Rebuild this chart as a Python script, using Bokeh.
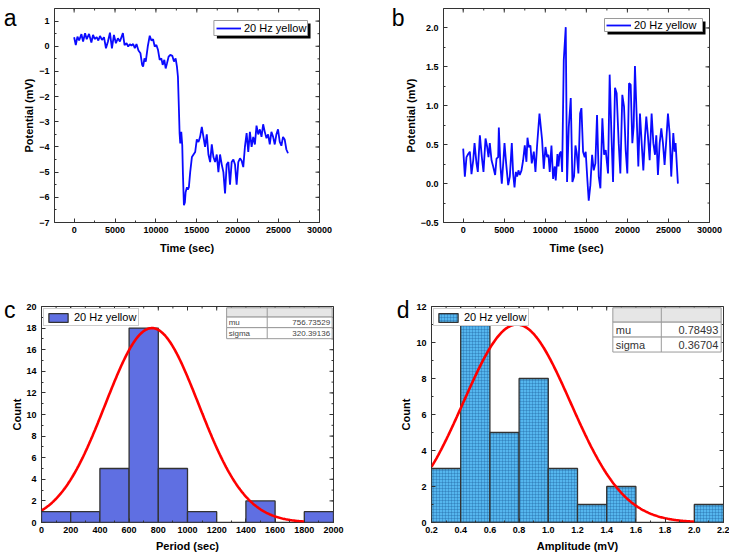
import numpy as np
from bokeh.plotting import figure
from bokeh.layouts import column, row
from bokeh.models import (Range1d, FixedTicker, Legend, LegendItem, LinearAxis,
                          CustomJSTickFormatter)
from bokeh.embed import file_html
from bokeh.resources import INLINE
from bokeh.core.properties import value

FONT = "Liberation Sans"
series_label = "20 Hz yellow"

# ---------------- data: panel a (potential vs time) ----------------
time_a = [0, 203, 406, 608, 892, 1095, 1338, 1541, 1825, 2109, 2311, 2514, 2757, 2960,
          3163, 3406, 3650, 3893, 4136, 4379, 4623, 4866, 5109, 5353, 5596, 5961, 6164,
          6407, 6610, 6814, 7015, 7218, 7421, 7623, 7867, 8110, 8313, 8434, 8597, 8759,
          9002, 9245, 9448, 9651, 9854, 10056, 10259, 10462, 10665, 10827, 11030, 11192,
          11354, 11557, 11760, 12003, 12206, 12409, 12571, 12692, 12814, 12895, 12976,
          13098, 13220, 13301, 13422, 13540, 13630, 13790, 13900, 14030, 14190, 14400,
          14600, 14800, 15000, 15200, 15400, 15610, 15810, 16010, 16220, 16420, 16630,
          16830, 17030, 17240, 17440, 17640, 17840, 18050, 18250, 18450, 18650, 18860,
          19060, 19260, 19470, 19670, 19870, 20070, 20280, 20480, 20680, 20880, 21090,
          21290, 21490, 21700, 21900, 22100, 22300, 22510, 22710, 22910, 23110, 23310,
          23520, 23720, 23920, 24120, 24330, 24530, 24730, 24930, 25140, 25340, 25540,
          25740, 25950, 26150]
pot_a = [0.36, 0.05, 0.38, 0.23, 0.48, 0.19, 0.52, 0.28, 0.49, 0.15, 0.45, 0.29, 0.36, 0.23,
         0.41, 0.25, 0.36, -0.08, 0.19, 0.54, -0.08, 0.45, 0.12, 0.32, 0.19, 0.52, 0.05,
         0.12, -0.01, 0.08, 0.03, 0.09, -0.08, 0.09, -0.17, -0.28, -0.74, -0.81, -0.48, -0.61,
         -0.01, 0.42, 0.23, 0.28, -0.01, 0.05, -0.15, -0.54, -0.48, -0.74, -0.54, -0.88,
         -0.68, -0.41, -0.34, -0.38, -0.61, -0.48, -0.81, -1.21, -2.53, -3.46, -3.86,
         -3.40, -3.93, -5.05, -6.31, -6.20, -5.80, -5.60, -5.70, -5.60, -5.00, -4.40,
         -4.30, -4.20, -3.70, -3.80, -3.60, -3.20, -3.60, -4.00, -3.50, -4.30, -4.60,
         -3.90, -4.40, -4.60, -4.30, -5.00, -4.30, -4.70, -5.00, -5.85, -4.70, -4.60,
         -5.50, -4.60, -4.50, -4.70, -5.50, -4.60, -4.45, -4.55, -4.80, -4.00, -3.45,
         -4.20, -3.40, -4.00, -3.60, -3.90, -3.15, -3.50, -3.30, -3.60, -3.10, -3.40,
         -3.65, -3.50, -3.90, -3.40, -3.60, -3.90, -3.50, -3.30, -3.80, -3.95, -3.60,
         -3.70, -4.10, -4.25]

# ---------------- data: panel b ----------------
time_b = [0, 200, 400, 610, 810, 1010, 1220, 1380, 1620, 1780, 2030, 2270, 2470, 2720,
          2920, 3080, 3240, 3450, 3650, 3890, 4060, 4260, 4340, 4540, 4700, 4910, 5030,
          5230, 5480, 5680, 5920, 6080, 6250, 6410, 6570, 6730, 6890, 7100, 7300, 7500,
          7700, 7830, 7990, 8190, 8350, 8600, 8800, 9000, 9290, 9450, 9610, 9810, 10020,
          10220, 10380, 10540, 10750, 10950, 11150, 11270, 11480, 11600, 11760, 11920,
          12050, 12250, 12490, 12650, 12860, 13100, 13300, 13500, 13670, 13830, 14030,
          14240, 14400, 14600, 14800, 14920, 15130, 15290, 15490, 15700, 15900, 16100,
          16300, 16510, 16710, 16950, 17160, 17360, 17640, 17840, 18050, 18250, 18490,
          18690, 18940, 19140, 19380, 19590, 19790, 19990, 20200, 20400, 20600, 20760,
          20920, 21130, 21330, 21530, 21740, 21940, 22140, 22300, 22510, 22710, 22950,
          23160, 23360, 23520, 23720, 23930, 24130, 24330, 24530, 24740, 24940, 25140,
          25340, 25590, 25750, 25870, 26150]
pot_b = [0.45, 0.09, 0.34, 0.38, 0.41, 0.12, 0.30, 0.52, 0.26, 0.15, 0.62, 0.34, 0.15, 0.58,
         0.47, 0.34, 0.52, 0.30, 0.22, 0.11, 0.32, 0.34, 0.72, 0.22, 0.00, 0.32, 0.52,
         0.26, -0.02, 0.09, 0.52, 0.13, -0.05, 0.15, 0.09, 0.17, 0.11, 0.17, 0.30, 0.49,
         0.28, 0.59, 0.47, 0.49, 0.26, 0.41, 0.15, 0.49, 0.90, 0.73, 0.56, 0.19, 0.47,
         0.34, 0.37, 0.15, 0.49, 0.06, 0.22, 0.04, 0.38, 0.22, 0.39, 0.41,
         0.15, 1.59, 2.01, 0.02, 0.73, 1.10, 0.02, 0.09, 0.49, 0.39, 0.13,
         0.90, 0.97, 0.41, 0.34, 0.41, 0.04, -0.22, -0.02, 0.37, 0.17, 0.26,
         0.88, 0.09, -0.06, 0.84, 0.37, 0.43, 0.13, 1.40, 0.65, 0.02, 1.23,
         1.16, 0.52, 0.13, 1.14, 0.99, 0.43, 0.13, 1.29, 1.27, 0.52, 0.73,
         1.51, 0.86, 0.22, 0.90, 0.52, 0.17, 0.60, 0.86, 0.60, 0.30, 0.90,
         0.52, 0.37, 0.62, 0.11, 0.52, 0.71, 0.52, 0.24, 0.56, 0.90, 0.65,
         0.09, 0.65, 0.41, 0.52, 0.00]

# ---------------- data: panel c (period histogram) ----------------
period_edges = [0, 200, 400, 600, 800, 1000, 1200, 1400, 1600, 1800, 2000]
period_counts = [1, 1, 5, 18, 5, 1, 0, 2, 0, 1]
period_mu = 756.73529
period_sigma = 320.39136
period_fit_end = 1800

# ---------------- data: panel d (amplitude histogram) ----------------
amp_edges = [0.2, 0.4, 0.6, 0.8, 1.0, 1.2, 1.4, 1.6, 1.8, 2.0, 2.2]
amp_counts = [3, 11, 5, 8, 3, 1, 2, 0, 0, 1]
amp_mu = 0.78493
amp_sigma = 0.36704
amp_fit_end = 2.0

TICK_COLOR = "#333333"


# ---------------- helpers ----------------
def minus_fmt(decimals):
    return CustomJSTickFormatter(code=(
        "const s = Math.abs(tick).toFixed(%d); return tick < -1e-9 ? '\\u2212' + s : s;" % decimals))


def base_fig(width, height, xr, yr, borders):
    l, r, t, b = borders
    p = figure(width=width, height=height, x_range=Range1d(*xr), y_range=Range1d(*yr),
               output_backend="svg", toolbar_location=None,
               min_border_left=l, min_border_right=r, min_border_top=t, min_border_bottom=b)
    p.xgrid.visible = False
    p.ygrid.visible = False
    p.outline_line_color = "#333333"
    p.outline_line_width = 1
    return p


def style_axis(ax, major, minor, fmt, label, label_standoff, tick_standoff):
    ax.ticker = FixedTicker(ticks=major, minor_ticks=minor)
    ax.formatter = fmt
    ax.axis_line_color = None
    ax.major_tick_in = 4
    ax.major_tick_out = 0
    ax.minor_tick_in = 2
    ax.minor_tick_out = 0
    ax.major_tick_line_color = TICK_COLOR
    ax.minor_tick_line_color = TICK_COLOR
    ax.major_label_text_font = FONT
    ax.major_label_text_font_style = "bold"
    ax.major_label_text_color = "black"
    ax.major_label_text_font_size = "9px"
    ax.major_label_standoff = tick_standoff
    ax.axis_label = label
    ax.axis_label_text_font = FONT
    ax.axis_label_text_font_style = "bold"
    ax.axis_label_text_font_size = "11px"
    ax.axis_label_text_color = "black"
    ax.axis_label_standoff = label_standoff


def setup_axes(p, xr, yr, xmaj, xmin, xfmt, ymaj, ymin, yfmt, xlabel, ylabel, xls=6, yls=1):
    style_axis(p.xaxis[0], xmaj, xmin, xfmt, xlabel, xls, 4)
    style_axis(p.yaxis[0], ymaj, ymin, yfmt, ylabel, yls, 5)
    # inward ticks on the top and right edges of the frame box
    for ticks, ln in ((xmaj, 4), (xmin, 2)):
        p.ray(x=ticks, y=[yr[1]] * len(ticks), length=ln, length_units="screen",
              angle=-np.pi / 2, line_color=TICK_COLOR, line_width=1)
    for ticks, ln in ((ymaj, 4), (ymin, 2)):
        p.ray(x=[xr[1]] * len(ticks), y=ticks, length=ln, length_units="screen",
              angle=np.pi, line_color=TICK_COLOR, line_width=1)


def px2data(xr, yr, fw, fh, px, py):
    x = xr[0] + px / fw * (xr[1] - xr[0])
    y = yr[1] - py / fh * (yr[1] - yr[0])
    return x, y


def line_legend(p, r, xr, yr, fw, fh, left, top, w, h, sh):
    # black drop shadow + white legend box, then the legend entry on top
    sx0, sy0 = px2data(xr, yr, fw, fh, left + sh, top + sh)
    sx1, sy1 = px2data(xr, yr, fw, fh, left + w + sh, top + h + sh)
    p.quad(left=[sx0], right=[sx1], top=[sy0], bottom=[sy1], fill_color="black",
           line_color=None)
    bx0, by0 = px2data(xr, yr, fw, fh, left, top)
    bx1, by1 = px2data(xr, yr, fw, fh, left + w, top + h)
    p.quad(left=[bx0], right=[bx1], top=[by0], bottom=[by1], fill_color="white",
           line_color="#9a9a9a", line_width=1)
    leg = Legend(items=[LegendItem(label=series_label, renderers=[r])],
                 location=(left + 2, fh - (top + h / 2) - 7), padding=0, spacing=0, margin=0,
                 glyph_width=25, glyph_height=14, label_height=14, label_standoff=3,
                 label_text_font=FONT, label_text_font_size="11px", label_text_color="black",
                 label_text_line_height=1.0, border_line_color=None,
                 background_fill_alpha=0)
    p.add_layout(leg)


def hist_legend(p, r):
    leg = Legend(items=[LegendItem(label=series_label, renderers=[r])],
                 location="top_left", padding=2, spacing=0, margin=2,
                 glyph_width=24, glyph_height=11, label_height=11, label_standoff=4,
                 label_text_font=FONT, label_text_font_size="11px", label_text_color="black",
                 label_text_line_height=1.0,
                 border_line_color="#9a9a9a", border_line_width=1,
                 background_fill_color="white", background_fill_alpha=1)
    p.add_layout(leg)


def add_table(p, xl, xd, xr_, rows, names, vals, fsize, tcolor, pad):
    lc = "#9a9a9a"
    p.quad(left=[xl], right=[xr_], top=[rows[0]], bottom=[rows[1]],
           fill_color="#e6e6e6", line_color=lc, line_width=1)
    p.quad(left=[xl, xl], right=[xr_, xr_], top=rows[1:3], bottom=rows[2:4],
           fill_color="white", line_color=lc, line_width=1)
    p.segment(x0=[xd], x1=[xd], y0=[rows[0]], y1=[rows[3]], line_color=lc, line_width=1)
    mids = [(rows[1] + rows[2]) / 2, (rows[2] + rows[3]) / 2]
    p.text(x=[xl + pad] * 2, y=mids, text=names, text_align="left", text_baseline="middle",
           text_font=value(FONT), text_font_size=fsize, text_color=tcolor)
    p.text(x=[xr_ - pad] * 2, y=mids, text=["%.5f" % v for v in vals], text_align="right",
           text_baseline="middle", text_font=value(FONT), text_font_size=fsize, text_color=tcolor)


def panel_letter(p, letter, y_at, standoff):
    # the panel letter is drawn as the single tick label of an extra, bare left axis
    ax = LinearAxis(ticker=FixedTicker(ticks=[y_at], minor_ticks=[]),
                    formatter=CustomJSTickFormatter(code="return '%s';" % letter),
                    axis_line_color=None, major_tick_line_color=None,
                    minor_tick_line_color=None, major_tick_in=0, major_tick_out=0,
                    minor_tick_in=0, minor_tick_out=0, major_label_standoff=standoff,
                    major_label_text_font=FONT, major_label_text_font_size="23px",
                    major_label_text_font_style="normal", major_label_text_color="black")
    p.add_layout(ax, "left")


# ---------------- panel a ----------------
xr_a, yr_a = (-2400, 30000), (-7, 1.5)
FW_A, FH_A = 266, 214
pa = base_fig(365, 270, xr_a, yr_a, (53, 46, 8, 48))
setup_axes(pa, xr_a, yr_a, list(range(0, 30001, 5000)), list(range(-2500, 30001, 2500)),
           minus_fmt(0), list(range(-7, 2)), [v / 2 for v in range(-14, 4)], minus_fmt(0),
           "Time (sec)", "Potential (mV)")
ra = pa.line(time_a, pot_a, line_color="#0a0aff", line_width=1.8)
line_legend(pa, ra, xr_a, yr_a, FW_A, FH_A, 160, 12, 94, 15, 3)
panel_letter(pa, "a", px2data(xr_a, yr_a, FW_A, FH_A, 0, 0.5)[1], 4)

# ---------------- panel b ----------------
xr_b, yr_b = (-2400, 30000), (-0.5, 2.25)
FW_B, FH_B = 266, 214
pb = base_fig(364, 270, xr_b, yr_b, (78, 20, 8, 48))
setup_axes(pb, xr_b, yr_b, list(range(0, 30001, 5000)), list(range(-2500, 30001, 2500)),
           minus_fmt(0), [-0.5, 0.0, 0.5, 1.0, 1.5, 2.0], [v / 4 for v in range(-2, 10)],
           minus_fmt(1), "Time (sec)", "Potential (mV)")
rb = pb.line(time_b, pot_b, line_color="#0a0aff", line_width=1.8)
line_legend(pb, rb, xr_b, yr_b, FW_B, FH_B, 161, 10, 98, 13, 3)
panel_letter(pb, "b", px2data(xr_b, yr_b, FW_B, FH_B, 0, 0.5)[1], -3)

# ---------------- panel c ----------------
xr_c, yr_c = (0, 2000), (0, 20)
FW_C, FH_C = 292, 217
pc = base_fig(365, 284, xr_c, yr_c, (41, 32, 36, 31))
setup_axes(pc, xr_c, yr_c, period_edges, list(range(0, 2001, 100)), minus_fmt(0),
           list(range(0, 21, 2)), list(range(0, 21)), minus_fmt(0),
           "Period (sec)", "Count", xls=4, yls=0)
rc = pc.quad(left=period_edges[:-1], right=period_edges[1:], top=period_counts, bottom=0,
             fill_color="#5f6fe2", line_color="#333333", line_width=1.3)
xc = np.linspace(period_edges[0], period_fit_end, 300)
yc = max(period_counts) * np.exp(-(xc - period_mu) ** 2 / (2 * period_sigma ** 2))
pc.line(xc, yc, line_color="#ff0000", line_width=2.6)
add_table(pc, 1268, 1546, 1991, [19.88, 19.02, 18.04, 17.02], ["mu", "sigma"],
          [period_mu, period_sigma], "8px", "#444444", 14)
hist_legend(pc, rc)
panel_letter(pc, "c", px2data(xr_c, yr_c, FW_C, FH_C, 0, 4)[1], -7)

# ---------------- panel d ----------------
xr_d, yr_d = (0.2, 2.2), (0, 12)
FW_D, FH_D = 292, 217
pd_ = base_fig(364, 284, xr_d, yr_d, (66, 6, 36, 31))
setup_axes(pd_, xr_d, yr_d, amp_edges, [0.2 + i * 0.1 for i in range(21)], minus_fmt(1),
           list(range(0, 13, 2)), list(range(0, 13)), minus_fmt(0),
           "Amplitude (mV)", "Count", xls=4, yls=1)
rd = pd_.quad(left=amp_edges[:-1], right=amp_edges[1:], top=amp_counts, bottom=0,
              fill_color="#55b6ee", line_color="#333333", line_width=1.3,
              hatch_pattern="cross", hatch_scale=3, hatch_color="#1d5c99",
              hatch_alpha=0.55, hatch_weight=0.6)
xd = np.linspace(amp_edges[0], amp_fit_end, 300)
yd = max(amp_counts) * np.exp(-(xd - amp_mu) ** 2 / (2 * amp_sigma ** 2))
pd_.line(xd, yd, line_color="#ff0000", line_width=2.6)
add_table(pd_, 1.442, 1.774, 2.184, [11.93, 11.13, 10.30, 9.47], ["mu", "sigma"],
          [amp_mu, amp_sigma], "11px", "#333333", 0.02)
hist_legend(pd_, rd)
panel_letter(pd_, "d", px2data(xr_d, yr_d, FW_D, FH_D, 0, 4)[1], -12)

layout = column(row(pa, pb), row(pc, pd_))
open("out.html", "w").write(file_html(layout, INLINE, title="20 Hz yellow"))
